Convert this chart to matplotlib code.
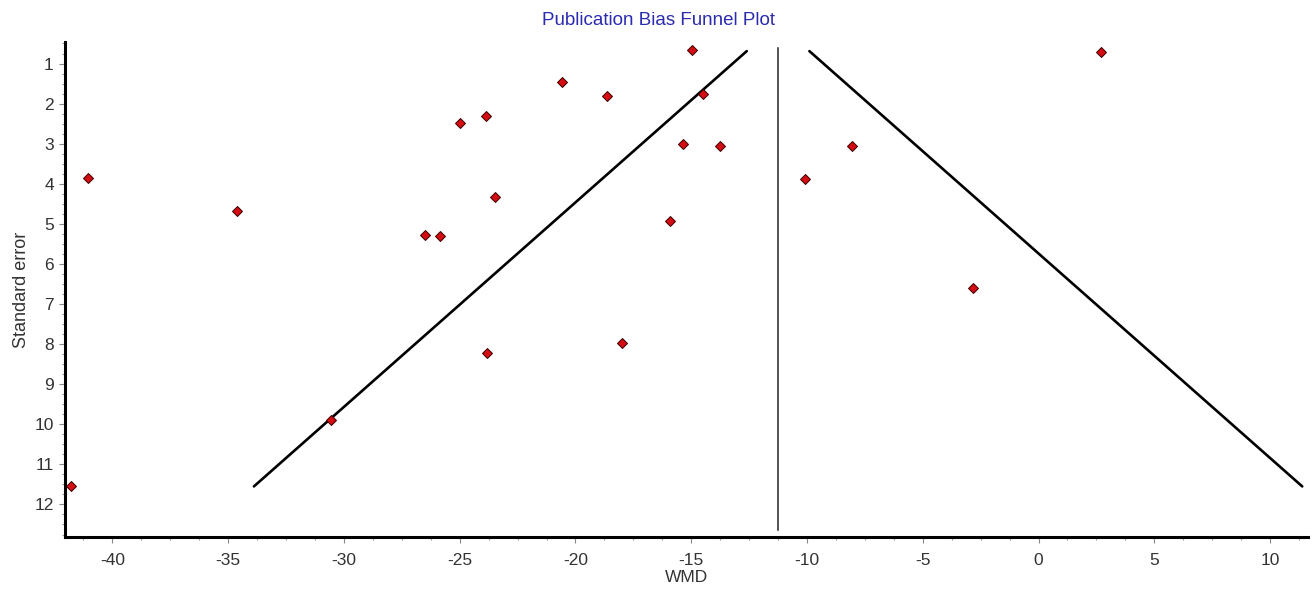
import matplotlib
matplotlib.use("Agg")
import matplotlib.pyplot as plt
import numpy as np
from matplotlib.ticker import MultipleLocator

plt.rcParams['font.family'] = ['Liberation Sans', 'DejaVu Sans']
plt.rcParams['axes.unicode_minus'] = False

# Study estimates (WMD) and standard errors
wmd = [-41.05, -34.6, -26.5, -25.85, -41.8, -30.55, -14.97, -20.58, -18.65,
       -14.5, -25.0, -23.88, -15.36, -13.77, -23.48, -15.93, -17.98, -23.82,
       -10.09, -8.04, 2.69, -2.82]
se = [3.86, 4.68, 5.27, 5.31, 11.53, 9.9, 0.65, 1.47, 1.80,
      1.77, 2.49, 2.32, 3.01, 3.05, 4.32, 4.94, 7.96, 8.22,
      3.89, 3.05, 0.72, 6.61]

pooled = -11.25
se_range = [0.69, 11.55]
vline_range = [0.6, 12.65]
z = 1.96

fig = plt.figure(figsize=(13.12, 5.9), dpi=100)
ax = fig.add_axes([0.0495, 0.0893, 0.9475, 0.8397])

se_arr = np.array(se_range)
ax.plot(pooled - z * se_arr, se_arr, color='black', lw=1.9, solid_capstyle='round')
ax.plot(pooled + z * se_arr, se_arr, color='black', lw=1.9, solid_capstyle='round')
ax.plot([pooled, pooled], vline_range, color='#222222', lw=1.1)

ax.plot(wmd, se, linestyle='none', marker='D', ms=5.5, mfc='#d40d12',
        mec='#3a0000', mew=0.7, zorder=5)

ax.set_xlim(-42.05, 11.64)
ax.set_ylim(12.82, 0.46)

ax.xaxis.set_major_locator(MultipleLocator(5))
ax.xaxis.set_minor_locator(MultipleLocator(1.25))
ax.yaxis.set_major_locator(MultipleLocator(1))
ax.yaxis.set_minor_locator(MultipleLocator(0.25))

for s in ['top', 'right']:
    ax.spines[s].set_visible(False)
for s in ['left', 'bottom']:
    ax.spines[s].set_linewidth(2.2)
    ax.spines[s].set_color('black')

ax.tick_params(which='major', direction='out', length=4, width=0.8,
               color='#888888', labelsize=12.5, labelcolor='#333333')
ax.tick_params(axis='x', which='major', pad=7)
ax.tick_params(axis='y', which='major', pad=4)
ax.tick_params(which='minor', direction='out', length=2.5, width=0.8,
               color='#999999')

fig.text(0.502, 0.965, 'Publication Bias Funnel Plot', color='#2b2bb0',
         fontsize=13.5, ha='center', va='center')
ax.set_xlabel('WMD', fontsize=12.5, color='#333333', labelpad=2)
ax.set_ylabel('Standard error', fontsize=13, color='#333333', labelpad=3)

fig.savefig('out.png', dpi=100, facecolor='white')
